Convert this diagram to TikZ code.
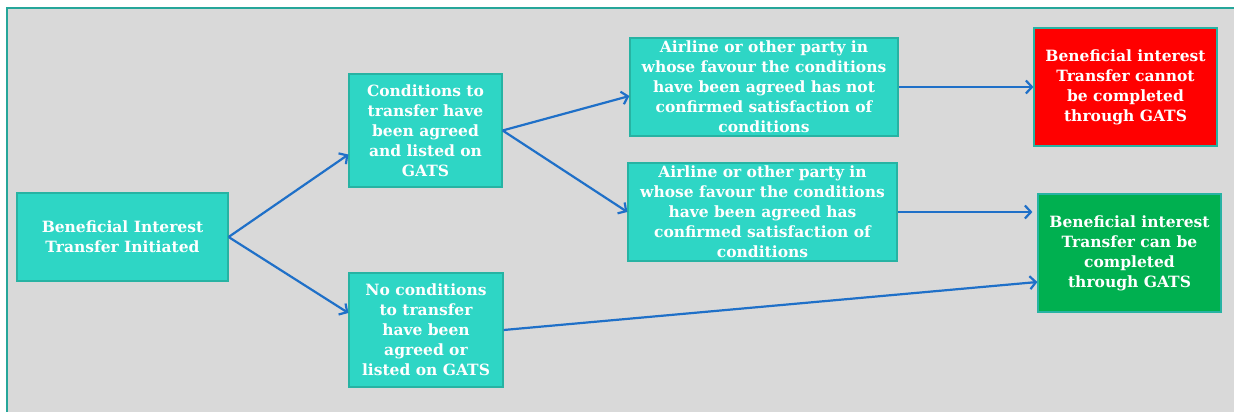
\documentclass[tikz,border=0pt]{standalone}
\usepackage{fontspec}
\setmainfont{DejaVu Serif}
\usetikzlibrary{arrows.meta,calc}
\definecolor{panelgrey}{HTML}{D9D9D9}
\definecolor{panelline}{HTML}{26A69A}
\definecolor{tealfill}{HTML}{2ED6C5}
\definecolor{tealline}{HTML}{27B3A3}
\definecolor{arrowblue}{HTML}{1F70C8}
\definecolor{redfill}{HTML}{FF0000}
\definecolor{greenfill}{HTML}{00B050}
\tikzset{
  box/.style={draw=tealline, line width=1.2pt, fill=tealfill, text=white, align=center,
    font=\fontsize{15.5}{20}\selectfont\bfseries, inner sep=0pt},
  redbox/.style={box, fill=redfill},
  greenbox/.style={box, fill=greenfill},
  conn/.style={draw=arrowblue, line width=2.2pt, -{Straight Barb[length=6pt,width=13pt,line width=2.2pt]}}
}
\begin{document}
\begin{tikzpicture}[x=1pt,y=-1pt]
\useasboundingbox (0,0) rectangle (1234,412);
\fill[white] (0,0) rectangle (1234,412);
\fill[panelgrey] (7,8) rectangle (1234,412);
\draw[panelline, line width=1.2pt] (7,412) -- (7,8) -- (1234,8);

\node[box, minimum width=211pt, minimum height=88pt] (A) at (122.5,237)
  {Beneficial Interest\\Transfer Initiated};
\node[box, minimum width=153pt, minimum height=113pt] (B) at (425.5,130.5)
  {Conditions to\\transfer have\\been agreed\\and listed on\\GATS};
\node[box, minimum width=154pt, minimum height=114pt] (C) at (426,330)
  {No conditions\\to transfer\\have been\\agreed or\\listed on GATS};
\node[box, minimum width=268pt, minimum height=98pt] (D) at (764,87)
  {Airline or other party in\\whose favour the conditions\\have been agreed has not\\confirmed satisfaction of\\conditions};
\node[box, minimum width=269pt, minimum height=98pt] (E) at (762.5,212)
  {Airline or other party in\\whose favour the conditions\\have been agreed has\\confirmed satisfaction of\\conditions};
\node[redbox, minimum width=183pt, minimum height=118pt] (F) at (1125.5,87)
  {Beneficial interest\\Transfer cannot\\be completed\\through GATS};
\node[greenbox, minimum width=183pt, minimum height=118pt] (G) at (1129.5,253)
  {Beneficial interest\\Transfer can be\\completed\\through GATS};

\draw[conn] (A.east) -- ([yshift=-24pt]B.west);
\draw[conn] (A.east) -- ([yshift=17pt]C.west);
\draw[conn] (B.east) -- ([yshift=-9pt]D.west);
\draw[conn] (B.east) -- (E.west);
\draw[conn] (D.east) -- (F.west);
\draw[conn, shorten >=5pt] (E.east) -- (E.east -| G.west);
\draw[conn] (C.east) -- ([yshift=-29pt]G.west);
\end{tikzpicture}
\end{document}
